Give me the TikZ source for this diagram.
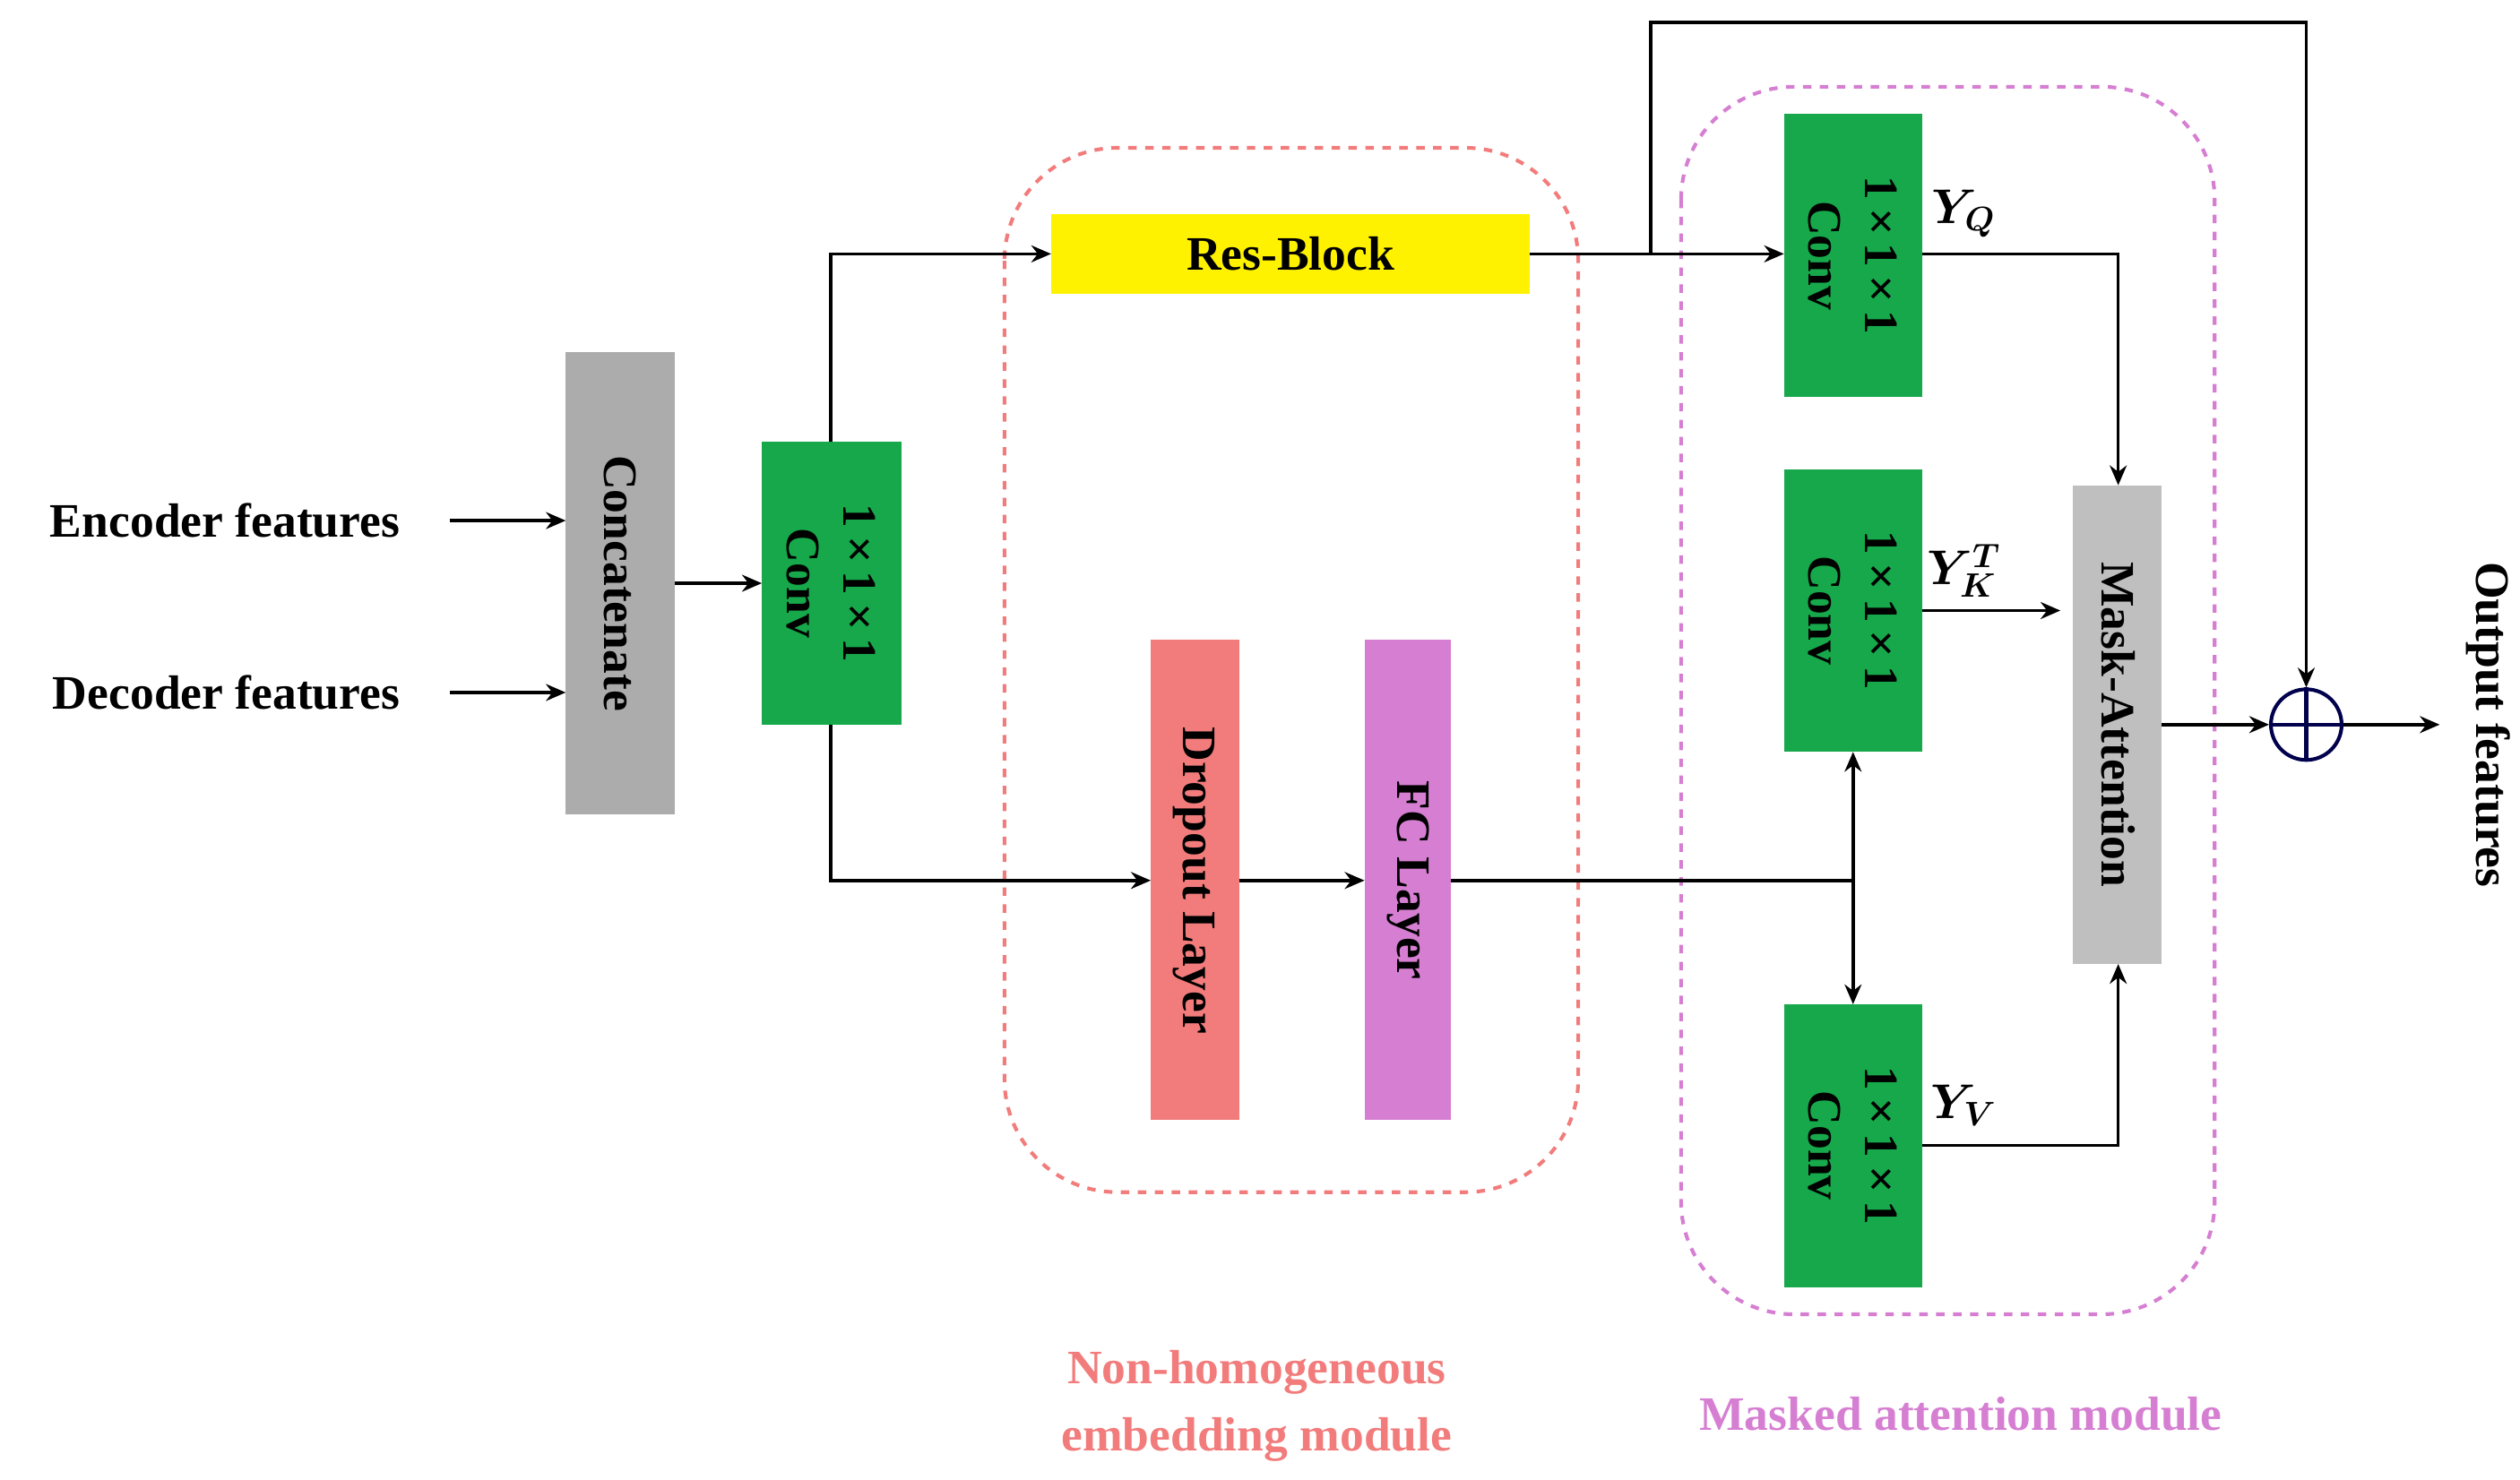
\documentclass[tikz,border=0pt]{standalone}
\usepackage{bm}
\usepackage{fontspec}
\setmainfont{Liberation Serif}
\usetikzlibrary{arrows.meta}
\begin{document}
\begin{tikzpicture}[x=0.02cm,y=-0.02cm,
  every node/.style={font=\fontsize{17}{20}\selectfont\bfseries},
  box/.style={draw=none,inner sep=0pt,align=center},
  ar/.style={-{Stealth[length=7pt,width=6pt]},line width=1.1pt},
  ln/.style={line width=1.1pt}]
\useasboundingbox (0,0) rectangle (1568,921);
\definecolor{cgreen}{HTML}{16A84A}
\definecolor{cred}{HTML}{F27C7C}
\definecolor{cpurp}{HTML}{D67FD2}
% dashed modules
\draw[cred,dashed,line width=1.3pt,rounded corners=40] (625,92) rectangle (982,742);
\draw[cpurp,dashed,line width=1.3pt,rounded corners=40] (1046,54) rectangle (1378,818);
% boxes
\fill[gray!65] (352,219) rectangle (420,507);
\node[box,rotate=-90] (cat) at (386,363) {Concatenate};
\fill[cgreen] (474,275) rectangle (561,451);
\node[box,rotate=-90] (c1) at (517,363) {1\,×\,1\,×\,1\\Conv};
\fill[yellow] (654,133) rectangle (952,183);
\node[box] (rb) at (803,158) {Res-Block};
\fill[cred] (716,398) rectangle (771,697);
\node[box,rotate=-90] (dp) at (743,548) {Dropout Layer};
\fill[cpurp] (849,398) rectangle (903,697);
\node[box,rotate=-90] (fc) at (876,548) {FC Layer};
\fill[cgreen] (1110,71) rectangle (1196,247);
\node[box,rotate=-90] (cq) at (1153,159) {1\,×\,1\,×\,1\\Conv};
\fill[cgreen] (1110,292) rectangle (1196,468);
\node[box,rotate=-90] (ck) at (1153,380) {1\,×\,1\,×\,1\\Conv};
\fill[cgreen] (1110,625) rectangle (1196,801);
\node[box,rotate=-90] (cv) at (1153,713) {1\,×\,1\,×\,1\\Conv};
\fill[gray!50] (1290,302) rectangle (1345,600);
\node[box,rotate=-90] (ma) at (1318,451) {Mask-Attention};
\node[draw=blue!30!black,circle,line width=1.3pt,minimum size=0.88cm,inner sep=0pt] (op) at (1435,451) {};
\draw[blue!30!black,line width=1.3pt] (op.north)--(op.south) (op.west)--(op.east);
% texts
\node[anchor=east] (enc) at (255,324) {Encoder features};
\node[anchor=east] (dec) at (255,431) {Decoder features};
\node[rotate=-90] (out) at (1548,451) {Output features};
\node at (1222,133) {$\bm{Y_Q}$};
\node at (1222,355) {$\bm{Y_K^T}$};
\node at (1222,688) {$\bm{Y_V}$};
\node[cred,align=center,font=\fontsize{17}{24}\selectfont\bfseries] at (782,875) {Non-homogeneous\\embedding module};
\node[cpurp] at (1220,880) {Masked attention module};
% coordinates
\coordinate (s1) at (280,324); \coordinate (e1) at (352,324);
\coordinate (s2) at (280,431); \coordinate (e2) at (352,431);
\coordinate (c1t) at (517,275); \coordinate (c1b) at (517,451);
\coordinate (rbl) at (654,158); \coordinate (rbr) at (952,158);
\coordinate (dpl) at (716,548); \coordinate (dpr) at (771,548);
\coordinate (fcl) at (849,548); \coordinate (fcr) at (903,548);
\coordinate (br) at (1153,548);
\coordinate (ckb) at (1153,468); \coordinate (cvt) at (1153,625);
\coordinate (cql) at (1110,158); \coordinate (cqr) at (1196,158);
\coordinate (ckr) at (1196,380); \coordinate (mal) at (1282,380);
\coordinate (cvr) at (1196,713);
\coordinate (mat) at (1318,302); \coordinate (mab) at (1318,600);
\coordinate (mar) at (1345,451);
\coordinate (oend) at (1518,451);
\coordinate (sk) at (1027,158);
% connectors
\draw[ar] (s1)--(e1);
\draw[ar] (s2)--(e2);
\draw[ar] (420,363)--(474,363);
\draw[ar] (c1t)|-(rbl);
\draw[ar] (c1b)|-(dpl);
\draw[ar] (dpr)--(fcl);
\draw[ln] (fcr)--(br);
\draw[ar] (br)--(ckb);
\draw[ar] (br)--(cvt);
\draw[ar] (rbr)--(cql);
\draw[ar] (sk)--(1027,14)-|(op.north);
\draw[ar] (cqr)-|(mat);
\draw[ar] (ckr)--(mal);
\draw[ar] (cvr)-|(mab);
\draw[ar] (mar)--(op.west);
\draw[ar] (op.east)--(oend);
\end{tikzpicture}
\end{document}
